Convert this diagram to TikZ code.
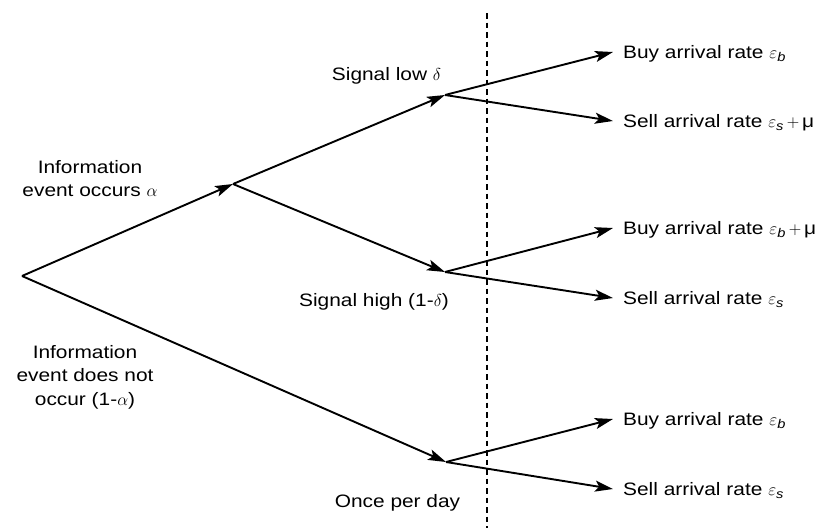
\documentclass[tikz,border=0pt]{standalone}
\usepackage{amsmath}
\usepackage{fontspec}
\setmainfont{Liberation Sans}[FakeStretch=1.16]
\usetikzlibrary{arrows.meta}
\begin{document}
\begin{tikzpicture}[x=1pt,y=-1pt,
  br/.style={line width=1.9pt,-{Stealth[length=18pt,width=11pt,inset=4pt]}},
  txt/.style={font=\fontsize{18}{23.5}\selectfont},
  leaf/.style={txt,anchor=west,inner xsep=10pt,inner ysep=0pt,text height=13pt,text depth=0pt},
  lbl/.style={txt,anchor=base,inner sep=0pt,align=center},
  divider/.style={dash pattern=on 5.5pt off 4pt,line width=2.6pt}]
\useasboundingbox (0,0) rectangle (827,530);
% branch points
\coordinate (root) at (22,276);
\coordinate (ev) at (233,184);
\coordinate (lo) at (445,95);
\coordinate (hi) at (445,272);
\coordinate (no) at (446,462);
% divider
\coordinate (dtop) at (487,13);
\coordinate (dbot) at (487,528);
\draw[divider] (dtop) -- (dbot);
% leaves
\node[leaf] (lb) at (613,52)  {Buy arrival rate $\varepsilon_{\text{\itshape b}}$};
\node[leaf] (ls) at (613,121) {Sell arrival rate $\varepsilon_{\text{\itshape s}}\,{+}\,$μ};
\node[leaf] (hb) at (613,228) {Buy arrival rate $\varepsilon_{\text{\itshape b}}\,{+}\,$μ};
\node[leaf] (hs) at (613,298) {Sell arrival rate $\varepsilon_{\text{\itshape s}}$};
\node[leaf] (nb) at (613,419) {Buy arrival rate $\varepsilon_{\text{\itshape b}}$};
\node[leaf] (ns) at (613,489) {Sell arrival rate $\varepsilon_{\text{\itshape s}}$};
% labels (base = last line)
\node[lbl] (evl) at (90,196.5) {Information\\event occurs $\alpha$};
\node[lbl] (nol) at (85,405) {Information\\event does not\\occur (1-$\alpha$)};
\node[lbl] (lol) at (386.5,80) {Signal low $\delta$};
\node[lbl] (hil) at (374,306.5) {Signal high (1-$\delta$)};
\node[lbl] (once) at (397.5,507) {Once per day};
% branches
\draw[br] (root) -- (ev);
\draw[br] (root) -- (no);
\draw[br] (ev) -- (lo);
\draw[br] (ev) -- (hi);
\draw[br] (lo) -- (lb.west);
\draw[br] (lo) -- (ls.west);
\draw[br] (hi) -- (hb.west);
\draw[br] (hi) -- (hs.west);
\draw[br] (no) -- (nb.west);
\draw[br] (no) -- (ns.west);
\end{tikzpicture}
\end{document}
